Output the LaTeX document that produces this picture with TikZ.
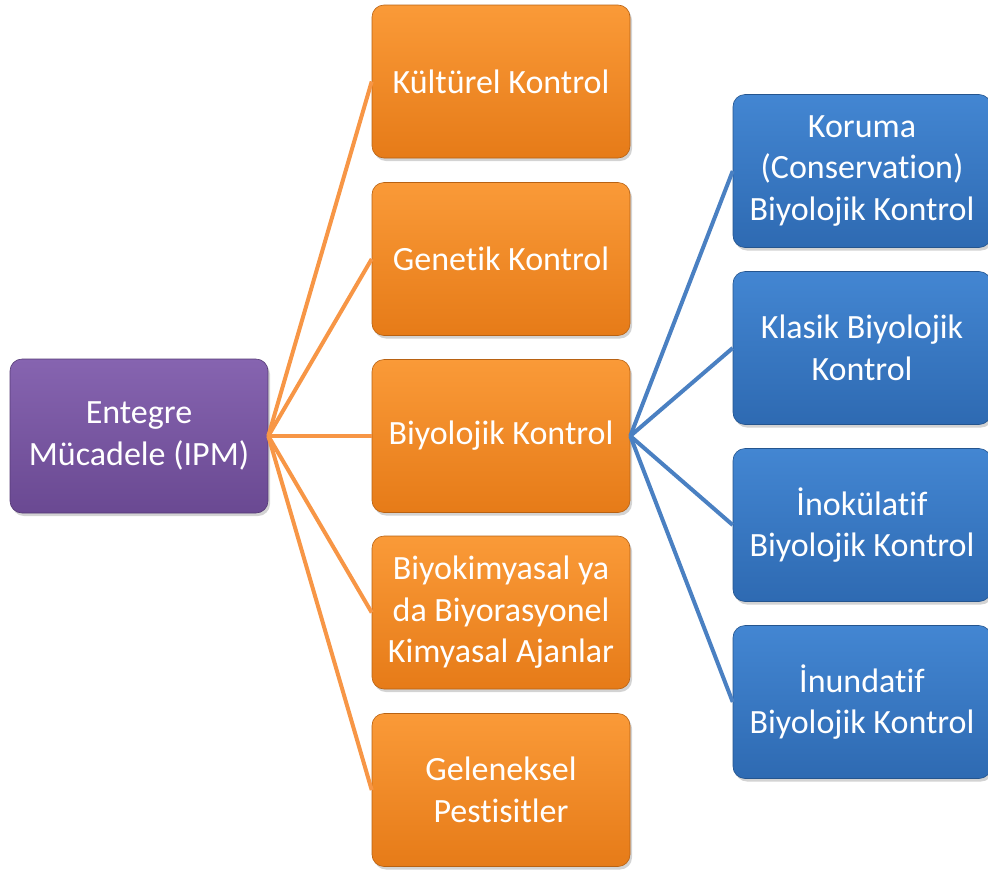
\documentclass[tikz,border=0pt]{standalone}
\usepackage{fontspec}
\setmainfont{Carlito}[Ligatures={NoCommon}]
\usetikzlibrary{shadows}
\definecolor{purpT}{HTML}{8664B0}
\definecolor{purpB}{HTML}{6A4992}
\definecolor{oranT}{HTML}{FA9A38}
\definecolor{oranB}{HTML}{E67B18}
\definecolor{blueT}{HTML}{4386D2}
\definecolor{blueB}{HTML}{2E6AB2}
\definecolor{oline}{HTML}{F79646}
\definecolor{bline}{HTML}{4A80C2}
\tikzset{
  boxbase/.style={rectangle, rounded corners=12pt, minimum width=258pt, minimum height=153pt,
    inner sep=0pt, align=center, text=white, font=\fontsize{34}{41.5}\selectfont,
    drop shadow={opacity=0.35, shadow xshift=2pt, shadow yshift=-3pt}},
  purpbox/.style={boxbase, top color=purpT, bottom color=purpB, draw=purpB!80!black, line width=0.6pt},
  oranbox/.style={boxbase, top color=oranT, bottom color=oranB, draw=oranB!80!black, line width=0.6pt},
  bluebox/.style={boxbase, top color=blueT, bottom color=blueB, draw=blueB!80!black, line width=0.6pt},
  oconn/.style={draw=oline, line width=4pt},
  bconn/.style={draw=bline, line width=4pt}
}
\begin{document}
\begin{tikzpicture}[x=1pt,y=-1pt]
\useasboundingbox (0,0) rectangle (988,873);
\node[purpbox, minimum height=154pt] (ipm) at (139,436) {Entegre\\Mücadele (IPM)};
\node[oranbox] (o1) at (501,81.5) {Kültürel Kontrol};
\node[oranbox] (o2) at (501,259) {Genetik Kontrol};
\node[oranbox] (o3) at (501,436) {Biyolojik Kontrol};
\node[oranbox] (o4) at (501,612.5) {Biyokimyasal ya\\da Biyorasyonel\\Kimyasal Ajanlar};
\node[oranbox] (o5) at (501,790) {Geleneksel\\Pestisitler};
\node[bluebox] (b1) at (862,171) {Koruma\\(Conservation)\\Biyolojik Kontrol};
\node[bluebox] (b2) at (862,348) {Klasik Biyolojik\\Kontrol};
\node[bluebox] (b3) at (862,525) {İnokülatif\\Biyolojik Kontrol};
\node[bluebox] (b4) at (862,702) {İnundatif\\Biyolojik Kontrol};
\foreach \o in {o1,o2,o3,o4,o5} \draw[oconn] (ipm.east) -- (\o.west);
\foreach \b in {b1,b2,b3,b4} \draw[bconn] (o3.east) -- (\b.west);
\end{tikzpicture}
\end{document}
